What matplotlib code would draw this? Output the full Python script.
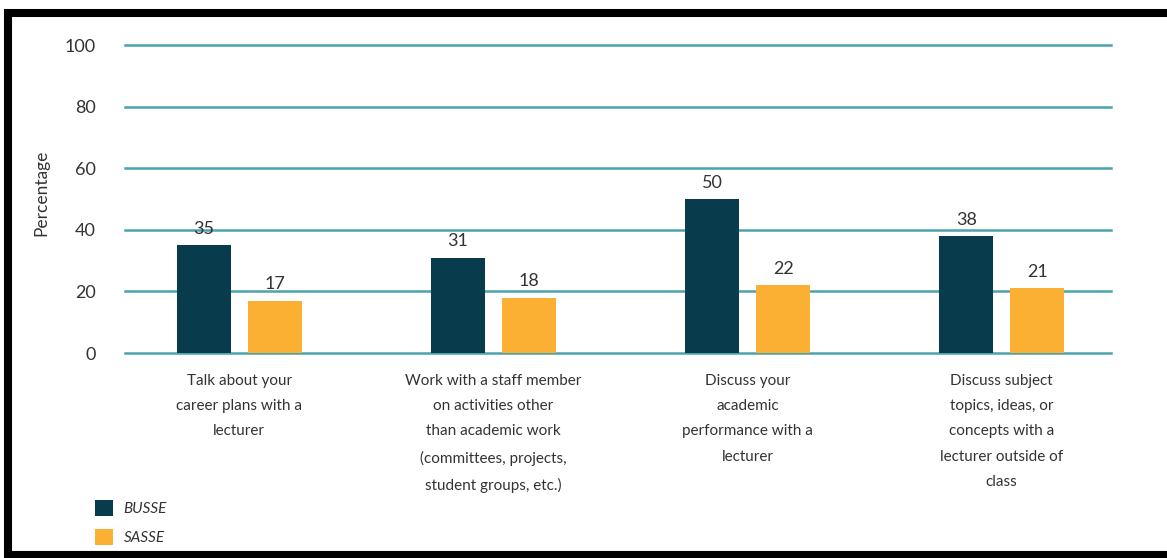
import numpy as np
import matplotlib
matplotlib.use("Agg")
from matplotlib import pyplot as plt
from matplotlib.patches import Patch, Rectangle

# Student-lecturer interaction, share of students (%)
categories = [
    "Talk about your\ncareer plans with a\nlecturer",
    "Work with a staff member\non activities other\nthan academic work\n(committees, projects,\nstudent groups, etc.)",
    "Discuss your\nacademic\nperformance with a\nlecturer",
    "Discuss subject\ntopics, ideas, or\nconcepts with a\nlecturer outside of\nclass",
]
busse = [35, 31, 50, 38]
sasse = [17, 18, 22, 21]
series_names = ["BUSSE", "SASSE"]
y_ticks = [0, 20, 40, 60, 80, 100]

dark = "#083b4c"
orange = "#fbb034"
grid_col = "#4ba3ad"
text_col = "#333333"

plt.rcParams["font.family"] = ["Lato", "DejaVu Sans"]

fig = plt.figure(figsize=(11.67, 5.58), dpi=100)
W, H = 1167, 558
ax = fig.add_axes([125 / W, (H - 353) / H, (1111 - 125) / W, (353 - 45) / H])

x = np.arange(len(categories))
bw = 0.213
off = 0.14

for t in y_ticks:
    ax.axhline(t, color=grid_col, lw=1.8, zorder=1, clip_on=False)

b1 = ax.bar(x - off, busse, bw, color=dark, zorder=2)
b2 = ax.bar(x + off, sasse, bw, color=orange, zorder=2)

for bars, vals in ((b1, busse), (b2, sasse)):
    for rect, v in zip(bars, vals):
        ax.annotate(str(v), (rect.get_x() + rect.get_width() / 2, v),
                    xytext=(0, 6), textcoords="offset points",
                    ha="center", va="bottom", fontsize=13, color=text_col)

ax.set_xlim(-0.45, 3.43)
ax.set_ylim(0, 100)
ax.set_yticks(y_ticks)
ax.set_yticklabels([str(t) for t in y_ticks], fontsize=13, color=text_col)
ax.set_xticks(x)
ax.set_xticklabels(categories, fontsize=11, color=text_col, linespacing=2.03,
                   va="top")
ax.tick_params(axis="y", length=0, pad=21)
ax.tick_params(axis="x", length=0, pad=15)
for s in ax.spines.values():
    s.set_visible(False)

ax.set_ylabel("Percentage", fontsize=12.5, color=text_col)
ax.yaxis.set_label_coords(-0.077, 0.52)

handles = [Patch(facecolor=dark, label=series_names[0]),
           Patch(facecolor=orange, label=series_names[1])]
leg = fig.legend(handles=handles, loc="lower left",
                 bbox_to_anchor=(87 / W, 5 / H), frameon=False,
                 fontsize=11, handlelength=1.2, handleheight=1.25,
                 handletextpad=0.7, labelspacing=0.85, borderpad=0)
for t in leg.get_texts():
    t.set_fontstyle("italic")
    t.set_color(text_col)

# black frame around the figure
fig.patches.append(Rectangle((8 / W, -10 / H), 1.2, (H - 13 + 10) / H,
                             transform=fig.transFigure, fill=False,
                             edgecolor="black", lw=5.8, zorder=10))
fig.patches.append(Rectangle((8 / W, 3.3 / H), 1.2, 0,
                             transform=fig.transFigure, fill=False,
                             edgecolor="black", lw=5.8, zorder=10))

fig.savefig("out.png", dpi=100)
